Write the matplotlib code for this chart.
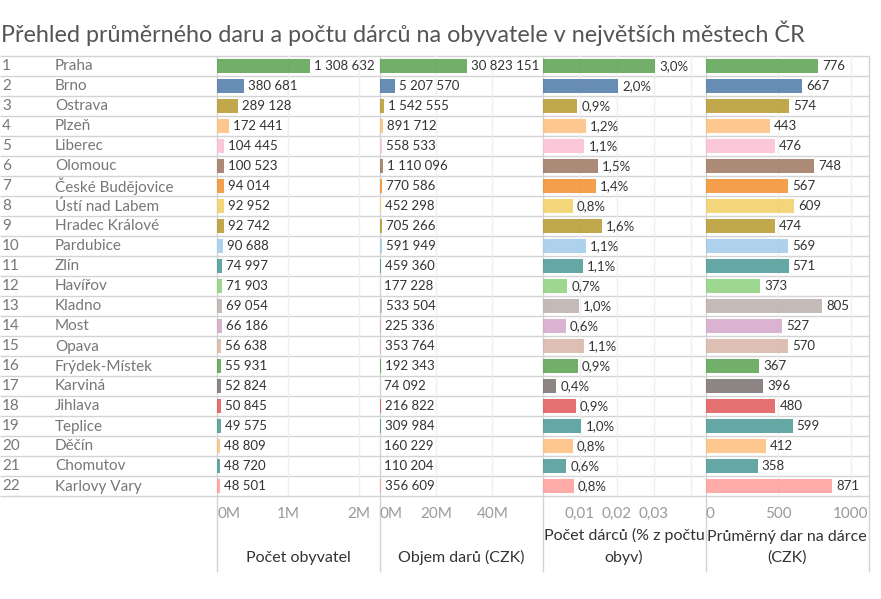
import matplotlib
matplotlib.use("Agg")
import matplotlib.pyplot as plt
from matplotlib.transforms import blended_transform_factory as btf

plt.rcParams['font.family'] = ['Lato', 'DejaVu Sans']

title = "Přehled průměrného daru a počtu dárců na obyvatele v největších městech ČR"
cities = ["Praha", "Brno", "Ostrava", "Plzeň", "Liberec", "Olomouc", "České Budějovice",
          "Ústí nad Labem", "Hradec Králové", "Pardubice", "Zlín", "Havířov", "Kladno",
          "Most", "Opava", "Frýdek-Místek", "Karviná", "Jihlava", "Teplice", "Děčín",
          "Chomutov", "Karlovy Vary"]
population = [1308632, 380681, 289128, 172441, 104445, 100523, 94014, 92952, 92742, 90688,
              74997, 71903, 69054, 66186, 56638, 55931, 52824, 50845, 49575, 48809, 48720, 48501]
donations = [30823151, 5207570, 1542555, 891712, 558533, 1110096, 770586, 452298, 705266,
             591949, 459360, 177228, 533504, 225336, 353764, 192343, 74092, 216822, 309984,
             160229, 110204, 356609]
donor_share = [0.0303, 0.0203, 0.0093, 0.0117, 0.0112, 0.0148, 0.0142, 0.0080, 0.0160, 0.0115,
               0.0107, 0.0066, 0.0096, 0.0062, 0.0110, 0.0094, 0.0036, 0.0089, 0.0104, 0.0080,
               0.0063, 0.0084]
avg_gift = [776, 667, 574, 443, 476, 748, 567, 609, 474, 569, 571, 373, 805, 527, 570, 367,
            396, 480, 599, 412, 358, 871]
colors = ["#59A14F", "#4E79A7", "#B6992D", "#FFBE7D", "#FABFD2", "#9D7660", "#F28E2B",
          "#F1CE63", "#B6992D", "#A0CBE8", "#499894", "#8CD17D", "#BAB0AC", "#D4A6C8",
          "#D7B5A6", "#59A14F", "#79706E", "#E15759", "#499894", "#FFBE7D", "#499894",
          "#FF9D9A"]
col_titles = ["Počet obyvatel", "Objem darů (CZK)", "Počet dárců (% z počtu\nobyv)",
              "Průměrný dar na dárce\n(CZK)"]
tick_vals = [[0, 1e6, 2e6], [0, 20e6, 40e6], [0.01, 0.02, 0.03], [0, 500, 1000]]
tick_labels = [["0M", "1M", "2M"], ["0M", "20M", "40M"], ["0,01", "0,02", "0,03"],
               ["0", "500", "1000"]]
grid_vals = [[1e6, 2e6], [20e6, 40e6], [0.01, 0.02, 0.03, 0.04], [500, 1000]]
xmax = [2.2795e6, 57.6e6, 0.0438, 1120]


def fmt_int(v):
    return f"{v:,}".replace(",", " ")


def fmt_pct(v):
    return f"{v*100:.1f}%".replace(".", ",")


label_fmts = [fmt_int, fmt_int, fmt_pct, fmt_int]
series = [population, donations, donor_share, avg_gift]

W, H = 881, 599
fig = plt.figure(figsize=(W / 100, H / 100), dpi=100)
bg = fig.add_axes([0, 0, 1, 1])
bg.set_xlim(0, W)
bg.set_ylim(H, 0)
bg.axis('off')

top, rowh = 56, 20
n = len(cities)
bottom = top + rowh * n
pane_x = [216.5, 379.5, 542.5, 705.5, 868.5]
line_c = "#d3d3d3"

fig.text(1 / W, 1 - 42 / H, title, fontsize=16.8, color="#555555", va='baseline', ha='left')

for k in range(n + 1):
    y = top + rowh * k
    bg.plot([0, pane_x[-1]], [y, y], color=line_c, lw=1, solid_capstyle='butt')
for x in pane_x:
    bg.plot([x, x], [top, 572], color=line_c, lw=1, solid_capstyle='butt')

for i, c in enumerate(cities):
    yc = top + rowh * i + rowh / 2 + 0.5
    bg.text(2, yc, str(i + 1), fontsize=11, color="#777777", va='center', ha='left')
    bg.text(55, yc, c, fontsize=11, color="#777777", va='center', ha='left')

for p in range(4):
    x0 = pane_x[p] + 0.5
    w = pane_x[p + 1] - pane_x[p] - 1
    ax = fig.add_axes([x0 / W, 1 - bottom / H, w / W, (bottom - top) / H])
    ax.set_facecolor('none')
    for s in ax.spines.values():
        s.set_visible(False)
    ax.set_xlim(0, xmax[p])
    ax.set_ylim(n - 0.5, -0.5)
    ax.set_xticks(grid_vals[p])
    ax.set_yticks([])
    ax.tick_params(length=0, labelbottom=False)
    ax.grid(axis='x', color="#efefef", lw=1)
    ax.set_axisbelow(True)
    vals = series[p]
    ax.barh(range(n), vals, height=0.74, color=colors, alpha=0.85, zorder=2)
    for i, v in enumerate(vals):
        ax.annotate(label_fmts[p](v), (v, i), xytext=(4, 0), textcoords='offset pixels',
                    fontsize=9.5, color="#333333", va='center', ha='left', zorder=3)
    tr = btf(ax.transData, bg.transData)
    for j, (tv, tl) in enumerate(zip(tick_vals[p], tick_labels[p])):
        ha = 'left' if tv == 0 else 'center'
        ax.text(tv, 514, tl, transform=tr, fontsize=11, color="#9a9a9a", ha=ha, va='center')
    cx = (pane_x[p] + pane_x[p + 1]) / 2
    bg.text(cx, 565, col_titles[p], fontsize=11.5, color="#333333", ha='center', va='bottom',
            linespacing=1.55)

fig.savefig("out.png", dpi=100)
